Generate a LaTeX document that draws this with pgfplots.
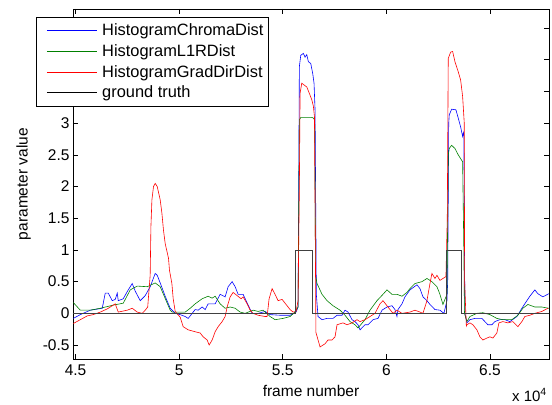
\documentclass[border=0pt]{standalone}
\usepackage{fontspec}
\setmainfont{Liberation Sans}
\usepackage{pgfplots}
\pgfplotsset{compat=1.18}

\definecolor{mblue}{rgb}{0,0,1}
\definecolor{mgreen}{rgb}{0,0.5,0}
\definecolor{mred}{rgb}{1,0,0}

\begin{document}
\begin{tikzpicture}
\useasboundingbox (-73bp,-46bp) rectangle (479bp,359bp);
\begin{axis}[
    scale only axis,
    width=476bp, height=350bp,
    at={(0,0)}, anchor=south west,
    xmin=44875, xmax=67850,
    ymin=-0.72, ymax=4.8,
    scaled x ticks=false,
    xtick={45000,50000,55000,60000,65000},
    xticklabels={4.5,5,5.5,6,6.5},
    ytick={-0.5,0,0.5,1,1.5,2,2.5,3,3.5,4,4.5},
    yticklabels={-0.5,0,0.5,1,1.5,2,2.5,3,3.5,4,4.5},
    tick align=inside,
    major tick length=5bp,
    tick style={black, line width=0.6bp},
    axis line style={black, line width=0.8bp},
    font=\fontsize{15.5bp}{18bp}\selectfont,
    xticklabel style={yshift=-2bp},
    xlabel={frame number},
    ylabel={parameter value},
    xlabel style={yshift=-3bp},
    ylabel style={yshift=5bp},
]
% HistogramChromaDist
\addplot[mblue, line width=0.6bp] coordinates {
(44890,-0.08) (45227,-0.02) (45709,0.05) (46287,0.08) (46432,0.32) (46577,0.32)
(46770,0.2) (46914,0.22) (47011,0.32) (47059,0.2) (47300,0.23) (47541,0.37)
(47734,0.47) (47879,0.35) (48120,0.2) (48361,0.28) (48602,0.42) (48843,0.63)
(48940,0.6) (49084,0.48) (49325,0.27) (49566,0.08) (49808,0.0) (50048,-0.02)
(50290,-0.05) (50434,-0.08) (50627,0.0) (50772,0.06) (50916,0.05) (51109,0.1)
(51254,0.06) (51399,0.15) (51736,0.15) (51977,0.3) (52218,0.26) (52363,0.42)
(52556,0.5) (52701,0.42) (52845,0.3) (53087,0.3) (53328,0.13) (53521,0.0)
(53810,0.0) (54147,0.03) (54388,-0.02) (54871,-0.03) (55353,-0.03) (55642,0.02)
(55738,0.1) (55801,3.89) (55869,4.07) (55994,4.1) (56076,4.04) (56158,4.08)
(56235,3.97) (56351,3.94) (56447,3.78) (56509,3.63) (56558,3.21) (56620,0.3)
(56702,-0.05) (56895,-0.1) (57136,-0.08) (57426,-0.08) (57619,-0.03) (57860,-0.03)
(58005,0.05) (58149,0.02) (58342,-0.1) (58487,-0.13) (58632,-0.18) (58728,-0.26)
(58969,-0.18) (59114,-0.18) (59355,-0.1) (59596,-0.08) (59789,0.05) (60030,0.1)
(60272,0.12) (60416,0.06) (60512,-0.05) (60561,0.06) (60754,0.15) (60898,0.26)
(61139,0.37) (61477,0.45) (61622,0.39) (61766,0.26) (61959,0.2) (62104,0.14)
(62345,0.06) (62586,0.05) (62779,0.0) (62924,0.2) (62960,0.5) (63010,3.0)
(63035,3.13) (63150,3.22) (63358,3.21) (63469,3.08) (63585,2.94) (63681,2.79)
(63720,2.85) (63740,2.8) (63790,0.0) (63888,-0.15) (64033,-0.1) (64274,-0.08)
(64611,-0.08) (64756,-0.13) (64900,-0.18) (65093,-0.18) (65238,-0.13) (65479,-0.1)
(65720,-0.1) (65962,-0.13) (66299,-0.05) (66540,0.08) (66782,0.2) (66926,0.27)
(67167,0.37) (67312,0.31) (67553,0.26) (67842,0.31)
};
% HistogramL1RDist
\addplot[mgreen, line width=0.6bp] coordinates {
(44890,0.17) (45227,0.05) (45709,0.05) (46191,0.08) (46818,0.13) (47300,0.16)
(47638,0.37) (47975,0.43) (48457,0.42) (48843,0.48) (49084,0.42) (49566,0.05)
(49663,0.02) (50290,0.02) (50531,0.08) (50772,0.15) (51109,0.23) (51399,0.27)
(51591,0.24) (51736,0.27) (51977,0.15) (52218,0.08) (52460,0.1) (52701,0.08)
(52942,0.02) (53183,0.0) (53569,0.05) (53810,0.03) (54051,0.05) (54388,-0.05)
(54629,-0.1) (55015,-0.08) (55353,-0.05) (55594,0.02) (55738,0.1) (55801,3.05)
(55869,3.09) (56399,3.09) (56476,3.08) (56540,3.05) (56580,0.6) (56654,0.47)
(56895,0.3) (57136,0.2) (57426,0.12) (57764,0.05) (58005,-0.03) (58246,-0.13)
(58487,-0.18) (58632,-0.23) (58969,-0.1) (59210,0.05) (59548,0.2) (59837,0.3)
(60030,0.37) (60272,0.3) (60512,0.3) (60754,0.27) (60995,0.33) (61139,0.39)
(61380,0.47) (61718,0.5) (61959,0.55) (62200,0.5) (62442,0.42) (62586,0.3)
(62731,0.14) (62924,0.3) (62990,2.5) (63035,2.6) (63150,2.65) (63310,2.6)
(63469,2.5) (63681,2.39) (63740,1.0) (63770,0.0) (63888,-0.13) (64033,-0.05)
(64370,0.0) (64659,0.01) (64997,-0.02) (65334,-0.08) (65624,-0.1) (66058,-0.1)
(66348,-0.03) (66589,0.08) (66830,0.14) (67167,0.1) (67505,0.1) (67842,0.08)
};
% HistogramGradDirDist
\addplot[mred, line width=0.6bp] coordinates {
(44890,-0.16) (45227,-0.1) (45564,-0.04) (45853,-0.02) (46191,0.02) (46529,0.07)
(46673,0.1) (46914,0.15) (47059,0.02) (47493,0.05) (47734,0.08) (47975,0.02)
(48216,0.0) (48361,0.05) (48481,0.1) (48600,0.6) (48636,1.37) (48684,1.79)
(48761,2.0) (48843,2.05) (48940,2.0) (49084,1.79) (49166,1.58) (49243,1.31)
(49325,1.1) (49484,0.87) (49532,0.68) (49648,0.47) (49711,0.23) (49808,0.03)
(50048,-0.06) (50193,-0.21) (50434,-0.26) (50772,-0.29) (51013,-0.31) (51157,-0.37)
(51350,-0.42) (51447,-0.5) (51591,-0.42) (51736,-0.29) (51881,-0.21) (52074,-0.13)
(52218,-0.05) (52315,0.1) (52460,0.26) (52604,0.33) (52797,0.28) (52990,0.23)
(53087,0.26) (53280,0.15) (53424,0.05) (53569,0.0) (53810,-0.03) (54147,-0.05)
(54244,-0.05) (54340,0.23) (54485,0.39) (54629,0.3) (54774,0.2) (54967,0.22)
(55063,0.18) (55208,0.12) (55353,0.06) (55497,0.02) (55642,0.03) (55738,0.2)
(55801,2.0) (55835,3.47) (55917,3.63) (55994,3.61) (56158,3.57) (56283,3.47)
(56399,3.37) (56476,3.27) (56530,3.1) (56600,-0.3) (56799,-0.53) (57040,-0.48)
(57185,-0.42) (57378,-0.42) (57522,-0.37) (57619,-0.18) (57908,-0.15) (58101,-0.18)
(58342,-0.15) (58583,-0.1) (58728,-0.13) (58969,-0.1) (59210,-0.05) (59451,0.0)
(59693,0.15) (59837,0.2) (60030,0.12) (60175,0.06) (60320,0.0) (60512,0.05)
(60754,0.0) (61139,0.02) (61380,0.05) (61622,0.02) (61766,0.0) (61959,0.2)
(62104,0.47) (62200,0.63) (62345,0.55) (62442,0.6) (62586,0.52) (62731,0.55)
(62876,0.58) (62940,1.5) (62987,4.02) (63102,4.12) (63199,4.13) (63310,3.97)
(63469,3.81) (63585,3.68) (63681,3.42) (63760,3.0) (63777,0.5) (63860,-0.2)
(63888,-0.18) (64033,-0.15) (64177,-0.18) (64370,-0.26) (64515,-0.37) (64659,-0.42)
(64852,-0.39) (64997,-0.37) (65141,-0.39) (65334,-0.31) (65431,-0.15) (65624,-0.13)
(65865,-0.15) (66106,-0.13) (66348,-0.21) (66540,-0.13) (66685,-0.05) (66926,-0.03)
(67167,0.0) (67505,0.03) (67794,0.08)
};
% ground truth
\addplot[black!75, line width=0.8bp] coordinates {
(44875,0) (55627,0) (55627,1) (56414,1) (56414,0) (62876,0) (62876,1)
(63612,1) (63612,0) (67850,0)
};
\end{axis}
% legend, drawn by hand (axis box lower left is at the origin)
\draw[black, line width=0.8bp, fill=white] (-37bp,253bp) rectangle (195bp,342bp);
\draw[mblue, line width=1bp] (-26bp,328bp) -- (24bp,328bp);
\draw[mgreen, line width=1bp] (-26bp,307bp) -- (24bp,307bp);
\draw[mred, line width=1bp] (-26bp,286bp) -- (24bp,286bp);
\draw[black, line width=1bp] (-26bp,266bp) -- (24bp,266bp);
\begin{scope}[every node/.style={anchor=west, inner sep=0pt,
    font=\fontsize{16.4bp}{19bp}\selectfont}]
\node at (29bp,328bp) {HistogramChromaDist};
\node at (29bp,307bp) {HistogramL1RDist};
\node at (29bp,286bp) {HistogramGradDirDist};
\node at (29bp,266bp) {ground truth};
\end{scope}
\node[anchor=base east, inner sep=0pt, font=\fontsize{15bp}{18bp}\selectfont]
    at (474bp,-42bp) {x 10\textsuperscript{4}};
\end{tikzpicture}
\end{document}
